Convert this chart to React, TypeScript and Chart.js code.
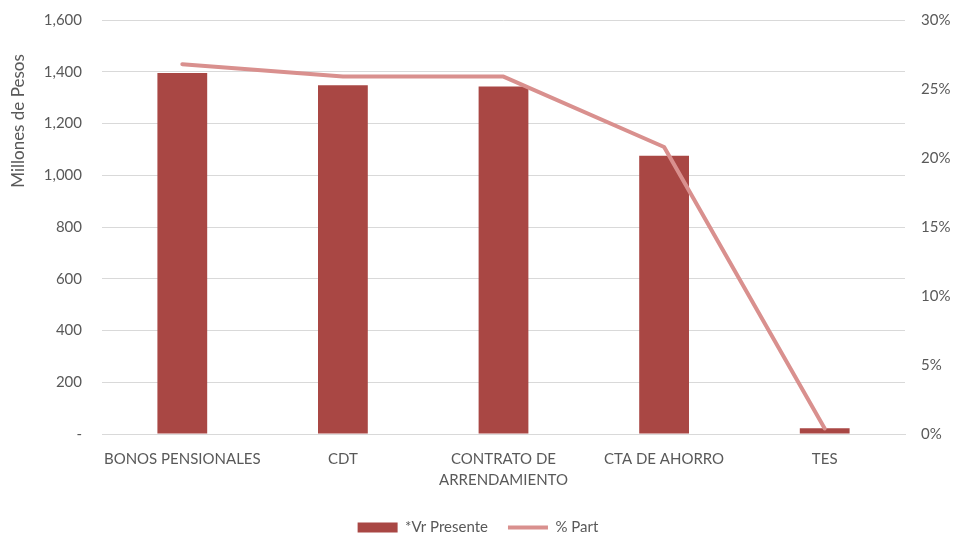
import React, { useEffect, useRef } from "react";
import { Chart, registerables } from "chart.js";

Chart.register(...registerables);

const categories: (string | string[])[] = [
  "BONOS PENSIONALES",
  "CDT",
  ["CONTRATO DE", "ARRENDAMIENTO"],
  "CTA DE AHORRO",
  "TES",
];
const vrPresente = [1395, 1348, 1343, 1075, 22];
const pctPart = [26.8, 25.9, 25.9, 20.8, 0.4];
const leftTickMax = 1600;
const leftTickStep = 200;
const rightTickMax = 30;
const rightTickStep = 5;
const yTitle = "Millones de Pesos";
const seriesNames = ["*Vr Presente", "% Part"];

const FONT = "Lato, 'Open Sans', sans-serif";
const TEXT = "#595959";
const SHIFT = 9;

export default function App() {
  const ref = useRef<HTMLCanvasElement | null>(null);
  useEffect(() => {
    if (!ref.current) return;
    const titlePlugin = {
      id: "yTitle",
      afterDraw(chart: any) {
        const ctx = chart.ctx;
        ctx.save();
        ctx.translate(19, 121 + SHIFT);
        ctx.rotate(-Math.PI / 2);
        ctx.font = `17px ${FONT}`;
        ctx.fillStyle = TEXT;
        ctx.textAlign = "center";
        ctx.textBaseline = "middle";
        ctx.fillText(yTitle, 0, 0);
        ctx.restore();
      },
    };
    const chart = new Chart(ref.current, {
      type: "bar",
      data: {
        labels: categories,
        datasets: [
          {
            type: "bar",
            label: seriesNames[0],
            data: vrPresente,
            backgroundColor: "#A94744",
            borderWidth: 0,
            categoryPercentage: 1,
            barPercentage: 0.31,
            yAxisID: "y",
            order: 2,
            pointStyle: "rect",
          } as any,
          {
            type: "line",
            label: seriesNames[1],
            data: pctPart,
            borderColor: "#D9908E",
            backgroundColor: "#D9908E",
            borderWidth: 4,
            pointRadius: 0,
            tension: 0,
            borderJoinStyle: "round",
            borderCapStyle: "round",
            yAxisID: "y1",
            order: 1,
            pointStyle: "line",
          } as any,
        ],
      },
      options: {
        animation: false,
        responsive: true,
        maintainAspectRatio: false,
        layout: { autoPadding: false, padding: { top: 19, bottom: -7, left: 0, right: 0 } },
        plugins: {
          tooltip: { enabled: false },
          legend: {
            position: "bottom",
            labels: {
              usePointStyle: true,
              pointStyleWidth: 40,
              boxHeight: 10,
              padding: 20,
              color: TEXT,
              font: { family: FONT, size: 15 },
              sort: (a: any, b: any) => a.datasetIndex - b.datasetIndex,
            },
          },
        },
        scales: {
          x: {
            grid: { display: false },
            border: { display: true, color: "#D9D9D9", width: 1 },
            ticks: {
              color: TEXT,
              font: { family: FONT, size: 15, lineHeight: 1.4 },
              padding: 7,
              maxRotation: 0,
              autoSkip: false,
            },
            afterFit: (s: any) => {
              s.height = 66;
            },
          },
          y: {
            position: "left",
            min: 0,
            max: leftTickMax,
            grid: { color: "#D9D9D9", drawTicks: false, lineWidth: 1 },
            border: { display: false },
            ticks: {
              stepSize: leftTickStep,
              color: TEXT,
              font: { family: FONT, size: 15 },
              padding: 20,
              callback: (v: any) => (v === 0 ? "-" : Number(v).toLocaleString("en-US")),
            },
            afterFit: (s: any) => {
              s.width = 102;
            },
          },
          y1: {
            position: "right",
            min: 0,
            max: rightTickMax,
            grid: { display: false, drawTicks: false },
            border: { display: false },
            ticks: {
              stepSize: rightTickStep,
              color: TEXT,
              font: { family: FONT, size: 15 },
              padding: 16,
              callback: (v: any) => `${v}%`,
            },
            afterFit: (s: any) => {
              s.width = 51;
            },
          },
        },
      },
      plugins: [titlePlugin],
    } as any);
    return () => chart.destroy();
  }, []);
  return (
    <div
      style={{
        position: "fixed",
        left: 0,
        top: 0,
        width: 956,
        height: 538,
        overflow: "hidden",
        background: "#fff",
      }}
    >
      <div
        style={{
          position: "absolute",
          left: 0,
          top: -SHIFT,
          width: 956,
          height: 538 + SHIFT,
        }}
      >
        <canvas ref={ref} />
      </div>
    </div>
  );
}
